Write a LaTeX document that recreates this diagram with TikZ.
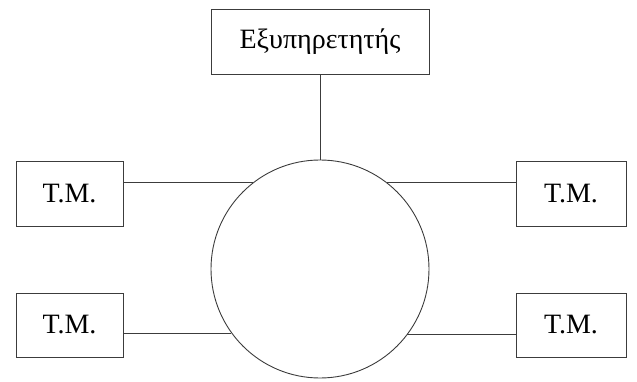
\documentclass[tikz,border=0pt]{standalone}
\usepackage{fontspec}
\setmainfont{Liberation Serif}
\usepackage{tikz}
\usetikzlibrary{positioning, calc}
\usepackage{xcolor}
\definecolor{inkgray}{RGB}{60, 60, 60}

\begin{document}
\begin{tikzpicture}[x=1pt, y=-1pt,
  box/.style={draw=inkgray, line width=0.9pt, rectangle, minimum height=65pt, inner sep=0pt,
    font=\fontsize{28}{31}\selectfont},
  link/.style={draw=inkgray, line width=0.9pt}]
  \useasboundingbox (0,0) rectangle (637,382);

  % δακτύλιος και εξυπηρετητής
  \node[draw=inkgray, line width=0.9pt, circle, minimum size=218pt, inner sep=0pt] (ring) at (320,269) {};
  \node[box, minimum width=218pt] (server) at (320,41.5) {Εξυπηρετητής};

  % τερματικά (αριστερά / δεξιά)
  \node[box, minimum width=107pt] (tml) at (69.5,193.5) {T.M.};
  \node[box, minimum width=107pt, minimum height=64pt] (bml) at (69.5,325) {T.M.};
  \node[box, minimum width=110pt] (tmr) at (571,193.5) {T.M.};
  \node[box, minimum width=110pt, minimum height=64pt] (bmr) at (571,325) {T.M.};

  % συνδέσεις
  \draw[link] (server.south) -- (ring.north);
  \draw[link] (ring.128) -- (ring.128 -| tml.east);
  \draw[link] (ring.216.6) -- (ring.216.6 -| bml.east);
  \draw[link] (ring.52) -- (ring.52 -| tmr.west);
  \draw[link] (ring.323.4) -- (ring.323.4 -| bmr.west);
\end{tikzpicture}
\end{document}
